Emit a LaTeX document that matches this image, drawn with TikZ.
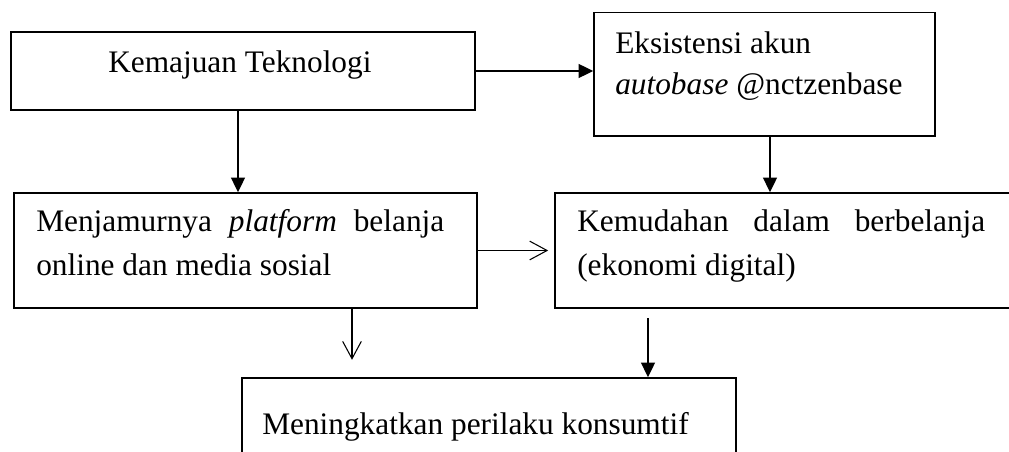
\documentclass[tikz,border=0pt]{standalone}
\usepackage{fontspec}
\setmainfont{Liberation Serif}
\usetikzlibrary{arrows.meta,calc}
\begin{document}
\begin{tikzpicture}[x=0.75pt,y=-0.75pt,
  box/.style={draw,line width=1.2pt,inner sep=0pt,rectangle},
  txt/.style={anchor=base west,inner sep=0pt,font=\fontsize{23.5pt}{30pt}\selectfont},
  solidarr/.style={line width=1.1pt,-{Triangle[length=11pt,width=10.5pt]}},
  openarr/.style={line width=0.8pt,-{Straight Barb[length=13pt,width=14pt,line width=0.8pt]}}]
\useasboundingbox (0,0) rectangle (1009,452);
\clip (0,0) rectangle (1009,452);
% boxes
\node[box,minimum width=348pt,minimum height=58.5pt] (k) at (243,71) {};
\node[box,minimum width=255.75pt,minimum height=92.6pt] (e) at (764.5,74.25) {};
\node[box,minimum width=347.25pt,minimum height=86.25pt] (m) at (245.5,250.5) {};
\node[box,minimum width=348.75pt,minimum height=86.25pt] (d) at (787.5,250.5) {};
\node[box,minimum width=370.5pt,minimum height=69pt] (p) at (489,424) {};
% texts
\node[txt] (t1) at (108,73) {Kemajuan Teknologi};
\node[txt] (t2a) at (615,54) {Eksistensi akun};
\node[txt] (t2b) at (615,95) {\textit{autobase} @nctzenbase};
\node[txt] (t3a) at (36,232) {\makebox[306pt][s]{Menjamurnya \textit{platform} belanja}};
\node[txt] (t3b) at (36,275) {online dan media sosial};
\node[txt] (t4a) at (577,232) {\makebox[306pt][s]{Kemudahan dalam berbelanja}};
\node[txt] (t4b) at (577,275) {(ekonomi digital)};
\node[txt] (t5) at (262,434) {Meningkatkan perilaku konsumtif};
% connector end points
\coordinate (a1) at ($(k.south)+(-5,0)$);
\coordinate (a2) at ($(e.south)+(5.5,0)$);
\coordinate (a3) at ($(m.east -| d.west)+(-6,0)$);
\coordinate (c1) at ($(m.south)+(106.5,0)$);
\coordinate (c2) at ($(m.south)+(106.5,51)$);
\coordinate (c3) at (648,318);
% connectors
\draw[solidarr] (k.east) -- (k.east -| e.west);
\draw[solidarr] (a1) -- (a1 |- m.north);
\draw[solidarr] (a2) -- (a2 |- d.north);
\draw[openarr] (m.east) -- (a3);
\draw[openarr] (c1) -- (c2);
\draw[solidarr] (c3) -- (c3 |- p.north);
\end{tikzpicture}
\end{document}
